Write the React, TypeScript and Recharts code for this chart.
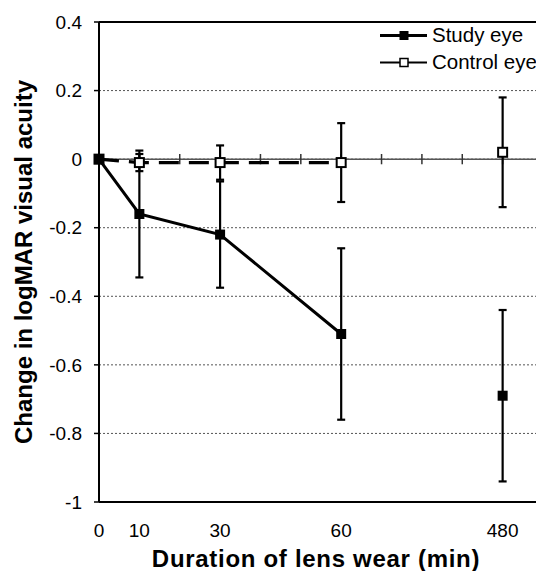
import { LineChart, Line, XAxis, YAxis, CartesianGrid, ReferenceLine, ErrorBar, Legend } from "recharts";

// duration of lens wear (min) and the category slot each one sits in on the axis
const minutes = [0, 10, 30, 60, 480];
const slots = [0, 1, 3, 6, 10];
const slotCount = 11;
// the 480 min reading is not joined to the others
const joined = [true, true, true, true, false];

const studyEye = [0, -0.16, -0.22, -0.51, -0.69];
const studyErr = [null, 0.185, 0.155, 0.25, 0.25];
const controlEye = [0, -0.01, -0.01, -0.01, 0.02];
const controlErr = [null, 0.025, 0.05, 0.115, 0.16];

const yTicks = [-1, -0.8, -0.6, -0.4, -0.2, 0, 0.2, 0.4];

const rows = minutes.map((m, i) => ({
  slot: slots[i],
  study: joined[i] ? studyEye[i] : null,
  studyE: joined[i] ? studyErr[i] : null,
  studyLate: joined[i] ? null : studyEye[i],
  studyLateE: joined[i] ? null : studyErr[i],
  control: joined[i] ? controlEye[i] : null,
  controlE: joined[i] ? controlErr[i] : null,
  controlLate: joined[i] ? null : controlEye[i],
  controlLateE: joined[i] ? null : controlErr[i],
}));

const slotLabel = (v: number) => {
  const i = slots.indexOf(v);
  return i >= 0 ? String(minutes[i]) : "";
};

const fmtY = (v: number) => String(Number(v.toFixed(1)));

const filledSquare = (p: any) => {
  if (p.cx == null || p.cy == null || p.value == null) return <g key={`f${p.index}`} />;
  return <rect key={`f${p.index}`} x={p.cx - 5} y={p.cy - 5} width={10} height={10} fill="#000" />;
};

const openSquare = (p: any) => {
  if (p.cx == null || p.cy == null || p.value == null) return <g key={`o${p.index}`} />;
  return (
    <rect key={`o${p.index}`} x={p.cx - 4.5} y={p.cy - 4.5} width={9} height={9} fill="#fff" stroke="#000" strokeWidth={2} />
  );
};

const legendOrder = ["study", "control"];

const renderLegend = (props: any) => {
  const items = (props.payload || [])
    .filter((e: any) => legendOrder.includes(e.dataKey))
    .sort((a: any, b: any) => legendOrder.indexOf(a.dataKey) - legendOrder.indexOf(b.dataKey));
  return (
    <div style={{ fontSize: 20.5, color: "#000" }}>
      {items.map((e: any) => {
        const open = e.dataKey === "control";
        return (
          <div key={e.value} style={{ display: "flex", alignItems: "center", height: 27 }}>
            <svg width={48} height={27}>
              <line x1={0} x2={47} y1={13.5} y2={13.5} stroke="#000" strokeWidth={open ? 2 : 3} />
              {open ? (
                <rect x={20} y={9.5} width={8} height={8} fill="#fff" stroke="#000" strokeWidth={1.5} />
              ) : (
                <rect x={19.5} y={9} width={9} height={9} fill="#000" />
              )}
            </svg>
            <span style={{ marginLeft: 4, whiteSpace: "nowrap" }}>{e.value}</span>
          </div>
        );
      })}
    </div>
  );
};

const xTitle = (p: any) => {
  const vb = p.viewBox;
  return (
    <text x={vb.x + vb.width / 2 - 5} y={vb.y + 65} textAnchor="middle" fontSize={24} fontWeight="bold" letterSpacing={0.7} fill="#000">
      Duration of lens wear (min)
    </text>
  );
};

const yTitle = (p: any) => {
  const vb = p.viewBox;
  const x = vb.x + 32;
  const y = vb.y + vb.height / 2;
  return (
    <text x={x} y={y} transform={`rotate(-90, ${x}, ${y})`} textAnchor="middle" fontSize={24} fontWeight="bold" fill="#000">
      Change in logMAR visual acuity
    </text>
  );
};

const zeroTicks = Array.from({ length: slotCount - 1 }, (_, i) => i + 1);

export default function App() {
  return (
    <div
      style={{
        position: "absolute",
        left: 0,
        top: 0,
        width: 536,
        height: 571,
        overflow: "hidden",
        background: "#fff",
        fontFamily: "'Liberation Sans', Arial, Helvetica, sans-serif",
      }}
    >
      <LineChart width={560} height={571} data={rows} margin={{ top: 22, right: 17, left: 0, bottom: 0 }}>
        <CartesianGrid vertical={false} stroke="#555" strokeDasharray="2 2" />
        <ReferenceLine y={0} stroke="#555" strokeWidth={1.5} />
        {zeroTicks.map((t) => (
          <ReferenceLine
            key={t}
            segment={[
              { x: t, y: -0.015 },
              { x: t, y: 0.015 },
            ]}
            stroke="#333"
            strokeWidth={1.5}
          />
        ))}
        <ReferenceLine y={0.4} stroke="#000" strokeWidth={2} />
        <XAxis
          dataKey="slot"
          type="number"
          domain={[0, slotCount]}
          ticks={slots}
          tickFormatter={slotLabel}
          axisLine={{ stroke: "#000", strokeWidth: 2 }}
          tickLine={false}
          tickSize={0}
          tickMargin={22}
          height={69}
          tick={{ fill: "#000", fontSize: 19 }}
          label={xTitle}
        />
        <YAxis
          type="number"
          domain={[-1, 0.4]}
          ticks={yTicks}
          tickFormatter={fmtY}
          axisLine={{ stroke: "#000", strokeWidth: 2 }}
          tickLine={{ stroke: "#000", strokeWidth: 1.5 }}
          tickSize={5}
          tickMargin={12}
          width={99}
          tick={{ fill: "#000", fontSize: 19 }}
          label={yTitle}
        />
        <Line
          dataKey="control"
          name="Control eye"
          stroke="#000"
          strokeWidth={3.2}
          strokeDasharray="20 10"
          dot={openSquare}
          activeDot={false}
          isAnimationActive={false}
        >
          <ErrorBar dataKey="controlE" direction="y" width={4} stroke="#000" strokeWidth={2.2} />
        </Line>
        <Line
          dataKey="controlLate"
          stroke="none"
          dot={openSquare}
          activeDot={false}
          legendType="none"
          isAnimationActive={false}
        >
          <ErrorBar dataKey="controlLateE" direction="y" width={4} stroke="#000" strokeWidth={2.2} />
        </Line>
        <Line
          dataKey="study"
          name="Study eye"
          stroke="#000"
          strokeWidth={3}
          dot={filledSquare}
          activeDot={false}
          isAnimationActive={false}
        >
          <ErrorBar dataKey="studyE" direction="y" width={4} stroke="#000" strokeWidth={2.2} />
        </Line>
        <Line
          dataKey="studyLate"
          stroke="none"
          dot={filledSquare}
          activeDot={false}
          legendType="none"
          isAnimationActive={false}
        >
          <ErrorBar dataKey="studyLateE" direction="y" width={4} stroke="#000" strokeWidth={2.2} />
        </Line>
        <Legend
          layout="vertical"
          align="center"
          verticalAlign="middle"
          wrapperStyle={{ left: 380, top: 21.5, width: "auto" }}
          content={renderLegend}
        />
      </LineChart>
    </div>
  );
}
